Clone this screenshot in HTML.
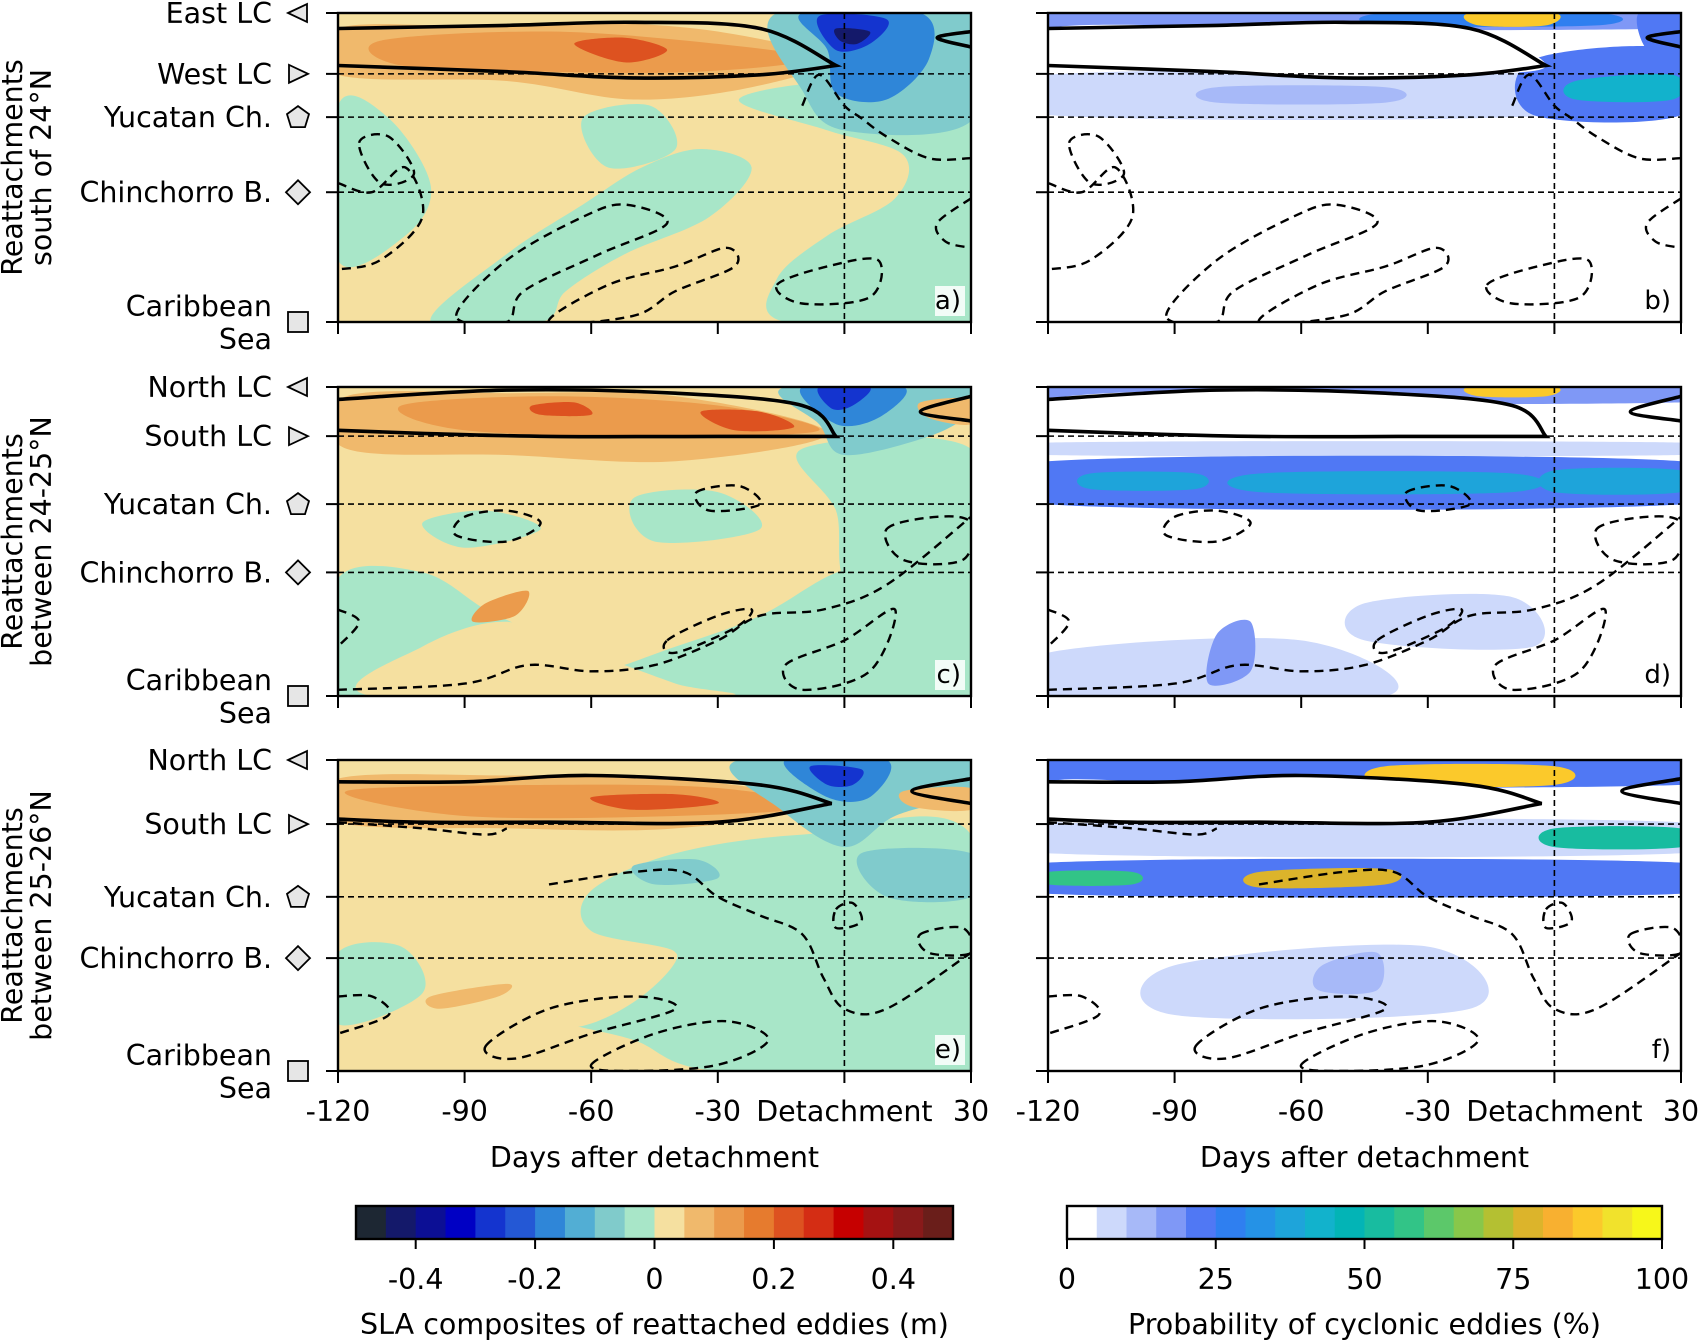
<!DOCTYPE html>
<html><head><meta charset="utf-8">
<style>
html,body{margin:0;padding:0;background:#fff;}
svg{display:block;font-family:"DejaVu Sans","Liberation Sans",sans-serif;}
</style></head>
<body>
<svg id="fig" width="1698" height="1341" viewBox="0 0 1698 1341"></svg>
<script>
// ---- data arrays ----
const xTickDays = [-120, -90, -60, -30, 0, 30];
const xTickLabels = ["-120", "-90", "-60", "-30", "Detachment", "30"];
const slaLevels = [-0.5,-0.45,-0.4,-0.35,-0.3,-0.25,-0.2,-0.15,-0.1,-0.05,0,0.05,0.1,0.15,0.2,0.25,0.3,0.35,0.4,0.45,0.5];
const slaColors = ["#1d2733","#14196a","#0c0f95","#0000c4","#1434cf","#2458d5","#2f86d8","#52aed4","#80cbcb","#a8e6c8","#f5e0a0","#f0b96c","#eb9b4c","#e67b2e","#dd5220","#d42d14","#c60000","#a51212","#881a1a","#6a1e1a"];
const slaTicks = [-0.4,-0.2,0,0.2,0.4];
const slaTickLabels = ["-0.4","-0.2","0","0.2","0.4"];
const probLevels = [0,5,10,15,20,25,30,35,40,45,50,55,60,65,70,75,80,85,90,95,100];
const probColors = ["#ffffff","#cdd9fb","#a7b9f8","#7f98f6","#5078f4","#2f7ff0","#2592e6","#1ea4da","#12b2cc","#03b4b6","#18bca0","#32c487","#5cc86a","#88c74a","#b4c032","#dcb42b","#f8b030","#fbc92b","#f1e22c","#f7f71a"];
const probTicks = [0,25,50,75,100];
const rowTitles = [["Reattachments","south of 24°N"],["Reattachments","between 24-25°N"],["Reattachments","between 25-26°N"]];
const rowCats = [
 [["East LC",0,"ltri"],["West LC",0.197,"rtri"],["Yucatan Ch.",0.337,"pent"],["Chinchorro B.",0.58,"diam"],["Caribbean\nSea",1,"sq"]],
 [["North LC",0,"ltri"],["South LC",0.159,"rtri"],["Yucatan Ch.",0.379,"pent"],["Chinchorro B.",0.6,"diam"],["Caribbean\nSea",1,"sq"]],
 [["North LC",0,"ltri"],["South LC",0.206,"rtri"],["Yucatan Ch.",0.44,"pent"],["Chinchorro B.",0.637,"diam"],["Caribbean\nSea",1,"sq"]]
];
const leftFills = [
 [ // a
  ["#a8e6c8",[[-120,0.3],[-108,0.34],[-98,0.56],[-104,0.72],[-120,0.8]]],
  ["#a8e6c8",[[-98,1],[-80,0.78],[-62,0.62],[-48,0.5],[-34,0.44],[-22,0.5],[-32,0.66],[-52,0.78],[-66,0.9],[-72,1]]],
  ["#a8e6c8",[[-25,0.28],[0,0.22],[30,0.26],[30,1],[-14,1],[-16,0.86],[-4,0.72],[12,0.6],[14,0.46],[-4,0.38]]],
  ["#a8e6c8",[[-62,0.34],[-46,0.3],[-40,0.44],[-56,0.5]]],
  ["#f0b96c",[[-120,0.05],[-90,0.04],[-60,0.03],[-30,0.06],[-4,0.15],[-22,0.24],[-50,0.28],[-80,0.22],[-120,0.2]]],
  ["#eb9b4c",[[-110,0.09],[-70,0.06],[-30,0.1],[-8,0.15],[-35,0.19],[-70,0.19],[-105,0.17]]],
  ["#dd5220",[[-64,0.1],[-52,0.08],[-42,0.12],[-52,0.16]]],
  ["#80cbcc",[[-16,0],[30,0],[30,0.35],[0,0.38],[-10,0.25]]],
  ["#2f86d8",[[-10,0],[18,0],[20,0.15],[10,0.28],[-2,0.26],[-4,0.12]]],
  ["#1434cf",[[-6,0.01],[10,0.02],[6,0.1],[-2,0.12]]],
  ["#14196a",[[-2,0.05],[6,0.06],[3,0.1],[-1,0.09]]]
 ],
 [ // c
  ["#a8e6c8",[[-120,0.62],[-100,0.6],[-85,0.72],[-70,0.82],[-60,0.92],[-40,0.84],[-20,0.74],[-5,0.62],[10,0.52],[20,0.3],[30,0.3],[30,1],[-120,1]]],
  ["#f5e0a0",[[-112,1],[-100,0.84],[-80,0.76],[-60,0.86],[-40,0.96],[-30,1]]],
  ["#a8e6c8",[[-50,0.36],[-30,0.34],[-20,0.46],[-45,0.5]]],
  ["#a8e6c8",[[-100,0.44],[-85,0.4],[-72,0.46],[-90,0.52]]],
  ["#a8e6c8",[[-10,0.2],[30,0.2],[30,0.6],[2,0.65],[-2,0.4]]],
  ["#f0b96c",[[-118,0.03],[-80,0.02],[-40,0.03],[-4,0.15],[-40,0.24],[-80,0.22],[-118,0.2]]],
  ["#eb9b4c",[[-105,0.06],[-70,0.03],[-30,0.06],[-6,0.14],[-40,0.16],[-90,0.14]]],
  ["#dd5220",[[-74,0.06],[-64,0.05],[-60,0.09],[-72,0.09]]],
  ["#dd5220",[[-34,0.08],[-20,0.08],[-12,0.13],[-26,0.14]]],
  ["#eb9b4c",[[-85,0.7],[-75,0.66],[-78,0.74],[-88,0.76]]],
  ["#80cbcc",[[-14,0],[30,0],[30,0.08],[20,0.16],[0,0.22],[-6,0.12]]],
  ["#2f86d8",[[-10,0],[14,0],[8,0.1],[-2,0.12]]],
  ["#1434cf",[[-6,0],[6,0],[2,0.06],[-3,0.07]]],
  ["#f0b96c",[[18,0.05],[30,0.04],[30,0.12],[20,0.1]]]
 ],
 [ // e
  ["#a8e6c8",[[-120,0.62],[-105,0.6],[-100,0.75],[-120,0.85]]],
  ["#a8e6c8",[[-60,0.42],[-40,0.3],[-10,0.24],[30,0.24],[30,1],[-30,1],[-50,0.9],[-70,0.82],[-55,0.72],[-40,0.62],[-60,0.55]]],
  ["#f5e0a0",[[-82,0.82],[-60,0.66],[-40,0.62],[-48,0.76],[-64,0.86]]],
  ["#80cbcc",[[-50,0.34],[-35,0.32],[-30,0.38],[-45,0.4]]],
  ["#80cbcc",[[4,0.3],[30,0.3],[30,0.44],[10,0.44]]],
  ["#f0b96c",[[-120,0.06],[-80,0.05],[-40,0.06],[-5,0.14],[-40,0.22],[-80,0.22],[-120,0.2]]],
  ["#eb9b4c",[[-118,0.1],[-70,0.08],[-30,0.09],[-8,0.15],[-40,0.18],[-90,0.18]]],
  ["#dd5220",[[-60,0.12],[-40,0.11],[-30,0.14],[-50,0.16]]],
  ["#f0b96c",[[-98,0.76],[-80,0.72],[-82,0.76],[-96,0.8]]],
  ["#80cbcc",[[-25,0],[30,0],[30,0.1],[12,0.18],[0,0.28],[-15,0.16]]],
  ["#2f86d8",[[-14,0],[10,0],[6,0.12],[-4,0.12]]],
  ["#1434cf",[[-8,0.02],[4,0.03],[2,0.08],[-4,0.08]]],
  ["#f0b96c",[[14,0.1],[30,0.09],[30,0.16],[16,0.15]]]
 ]
];
const rightFills = [
 [
  ["#7f98f6",[[-120,0],[30,0],[30,0.05],[-120,0.05]]],
  ["#2f7ff0",[[-40,0],[10,0],[10,0.04],[-40,0.04]]],
  ["#fbc92b",[[-20,0],[0,0],[-2,0.04],[-18,0.04]]],
  ["#cdd9fb",[[-120,0.2],[0,0.2],[0,0.33],[-120,0.33]]],
  ["#a7b9f8",[[-80,0.24],[-40,0.24],[-40,0.29],[-80,0.29]]],
  ["#5078f4",[[-5,0.15],[30,0.12],[30,0.33],[-5,0.33]]],
  ["#12b2cc",[[5,0.22],[28,0.2],[28,0.28],[5,0.28]]],
  ["#5078f4",[[20,0],[30,0],[30,0.15],[22,0.12]]]
 ],
 [
  ["#7f98f6",[[-120,0],[30,0],[30,0.05],[-120,0.05]]],
  ["#fbc92b",[[-20,0],[0,0],[-2,0.03],[-18,0.03]]],
  ["#cdd9fb",[[-120,0.18],[30,0.18],[30,0.22],[-120,0.22]]],
  ["#5078f4",[[-120,0.24],[30,0.24],[30,0.38],[-120,0.38]]],
  ["#1ea4da",[[-110,0.28],[-85,0.28],[-85,0.33],[-110,0.33]]],
  ["#1ea4da",[[-70,0.28],[-10,0.28],[-10,0.34],[-70,0.34]]],
  ["#1ea4da",[[0,0.27],[30,0.27],[30,0.34],[0,0.34]]],
  ["#cdd9fb",[[-45,0.7],[-10,0.68],[-5,0.84],[-45,0.82]]],
  ["#cdd9fb",[[-120,0.86],[-60,0.82],[-40,1],[-120,1]]],
  ["#7f98f6",[[-80,0.8],[-72,0.76],[-72,0.92],[-82,0.96]]]
 ],
 [
  ["#5078f4",[[-120,0],[30,0],[30,0.08],[-120,0.08]]],
  ["#fbc92b",[[-40,0.02],[0,0.02],[0,0.08],[-40,0.08]]],
  ["#cdd9fb",[[-120,0.2],[30,0.2],[30,0.3],[-120,0.3]]],
  ["#5078f4",[[-120,0.33],[30,0.33],[30,0.43],[-120,0.43]]],
  ["#32c487",[[-120,0.36],[-100,0.36],[-100,0.4],[-120,0.4]]],
  ["#dcb42b",[[-70,0.36],[-40,0.35],[-40,0.4],[-70,0.41]]],
  ["#18bca0",[[0,0.22],[30,0.22],[30,0.28],[0,0.28]]],
  ["#cdd9fb",[[-90,0.66],[-30,0.6],[-20,0.8],[-90,0.82]]],
  ["#a7b9f8",[[-55,0.66],[-42,0.62],[-42,0.74],[-56,0.74]]]
 ]
];
const lcTop = [[[-120,0.05],[-80,0.04],[-50,0.03],[-20,0.05],[-2,0.17]],[[-120,0.04],[-80,0.01],[-40,0.02],[-10,0.06],[-2,0.16]],[[-120,0.07],[-90,0.07],[-60,0.05],[-20,0.08],[-3,0.14]]];
const lcBot = [[[-2,0.17],[-20,0.2],[-50,0.21],[-80,0.19],[-120,0.17]],[[-2,0.16],[-30,0.16],[-70,0.16],[-100,0.15],[-120,0.14]],[[-3,0.14],[-30,0.2],[-70,0.2],[-100,0.2],[-120,0.19]]];
const lcRight = [[[30,0.06],[22,0.08],[30,0.11]],[[30,0.03],[18,0.08],[30,0.11]],[[30,0.06],[16,0.1],[30,0.14]]];
const dashed = [
 [
  [[-120,0.55],[-112,0.58],[-104,0.5],[-100,0.66],[-110,0.8],[-120,0.83]],
  [[-115,0.42],[-108,0.4],[-102,0.52],[-110,0.55]],
  [[-92,0.98],[-80,0.8],[-62,0.66],[-52,0.62],[-42,0.68],[-58,0.78],[-76,0.9],[-80,1]],
  [[-70,1],[-56,0.88],[-40,0.82],[-28,0.76],[-26,0.82],[-40,0.9],[-50,0.98]],
  [[-16,0.88],[-4,0.82],[8,0.8],[6,0.92],[-10,0.94]],
  [[-10,0.3],[-6,0.2],[0,0.3],[4,0.34],[10,0.4],[20,0.47],[30,0.47]],
  [[30,0.6],[22,0.68],[24,0.74],[30,0.76]]
 ],
 [
  [[-120,0.98],[-90,0.96],[-75,0.9],[-60,0.92],[-45,0.9],[-30,0.82],[-20,0.74],[-5,0.72],[10,0.64],[30,0.42]],
  [[-90,0.42],[-80,0.4],[-72,0.44],[-80,0.5],[-92,0.48]],
  [[-35,0.34],[-25,0.32],[-20,0.38],[-32,0.4]],
  [[-14,0.9],[0,0.82],[12,0.72],[6,0.92],[-10,0.98]],
  [[-42,0.82],[-30,0.74],[-22,0.72],[-26,0.78],[-40,0.86]],
  [[10,0.46],[22,0.42],[30,0.44],[28,0.56],[14,0.56]],
  [[-120,0.72],[-115,0.76],[-120,0.84]]
 ],
 [
  [[-120,0.76],[-112,0.76],[-108,0.82],[-120,0.88]],
  [[-85,0.92],[-70,0.8],[-50,0.76],[-40,0.8],[-60,0.88],[-78,0.96]],
  [[-60,0.98],[-45,0.88],[-28,0.84],[-18,0.9],[-30,0.98],[-50,1]],
  [[-70,0.4],[-50,0.36],[-38,0.36],[-30,0.44],[-20,0.5],[-10,0.56],[-5,0.7],[0,0.8],[10,0.8],[30,0.62]],
  [[-2,0.48],[2,0.46],[4,0.52],[-2,0.54]],
  [[18,0.56],[28,0.54],[30,0.62],[20,0.62]],
  [[-120,0.2],[-100,0.22],[-85,0.24],[-80,0.22]]
 ]
];
// ---- layout ----
const FS = 28.5;
const rowsY = [[13,322],[387,696],[760,1071]];
const colsX = [[338,971],[1048,1681]];
const NS = "http://www.w3.org/2000/svg";
const svg = document.getElementById("fig");
function el(tag, attrs, parent){const e=document.createElementNS(NS,tag);for(const k in attrs)e.setAttribute(k,attrs[k]);(parent||svg).appendChild(e);return e;}
function xScale(c,d){const [a,b]=colsX[c];return a+(d+120)/150*(b-a);}
function yScale(r,f){const [a,b]=rowsY[r];return a+f*(b-a);}
function smooth(pts,closed){
 const n=pts.length;let d="M"+pts[0][0].toFixed(1)+","+pts[0][1].toFixed(1);
 const get=i=>closed?pts[(i+n)%n]:pts[Math.max(0,Math.min(n-1,i))];
 const segs=closed?n:n-1;
 for(let i=0;i<segs;i++){const p0=get(i-1),p1=get(i),p2=get(i+1),p3=get(i+2);
  const c1=[p1[0]+(p2[0]-p0[0])/6,p1[1]+(p2[1]-p0[1])/6],c2=[p2[0]-(p3[0]-p1[0])/6,p2[1]-(p3[1]-p1[1])/6];
  d+=" C"+c1.map(v=>v.toFixed(1)).join(",")+" "+c2.map(v=>v.toFixed(1)).join(",")+" "+p2[0].toFixed(1)+","+p2[1].toFixed(1);}
 return d+(closed?"Z":"");
}
const defs=el("defs",{});
for(let r=0;r<3;r++)for(let c=0;c<2;c++){const cp=el("clipPath",{id:"clip"+r+c},defs);el("rect",{x:colsX[c][0],y:rowsY[r][0],width:colsX[c][1]-colsX[c][0],height:rowsY[r][1]-rowsY[r][0]},cp);}
const letters=[["a)","b)"],["c)","d)"],["e)","f)"]];
for(let r=0;r<3;r++){
 for(let c=0;c<2;c++){
  const g=el("g",{"clip-path":"url(#clip"+r+c+")"});
  
  
  const x0=colsX[c][0],x1=colsX[c][1],y0=rowsY[r][0],y1=rowsY[r][1];
  el("rect",{x:x0,y:y0,width:x1-x0,height:y1-y0,fill:c===0?"#f5e0a0":"#ffffff"},g);
  const fills=c===0?leftFills[r]:rightFills[r];
  fills.forEach(([col,pts])=>{const p=el("path",{d:smooth(pts.map(q=>[xScale(c,q[0]),yScale(r,q[1])]),true),fill:col},g);
   
   });
  if(c===1){
   const pts=lcTop[r].concat(lcBot[r].slice(1)).map(q=>[xScale(c,q[0]),yScale(r,q[1])]);
   el("path",{d:smooth(pts,true),fill:"#fff"},g);}
  rowCats[r].forEach(([n,f])=>{ if(f>0&&f<1) el("line",{x1:x0,x2:x1,y1:yScale(r,f),y2:yScale(r,f),stroke:"#000","stroke-width":1.6,"stroke-dasharray":"6,4"},g);});
  el("line",{x1:xScale(c,0),x2:xScale(c,0),y1:y0,y2:y1,stroke:"#000","stroke-width":1.6,"stroke-dasharray":"6,4"},g);
  dashed[r].forEach(pts=>{const closed=pts.length>=4&&pts[0][0]!==-120&&pts[pts.length-1][0]!==30;
   const p=el("path",{d:smooth(pts.map(q=>[xScale(c,q[0]),yScale(r,q[1])]),closed),fill:"none",stroke:"#000","stroke-width":2.4,"stroke-dasharray":"9,6"},g);
   
   });
  const lc=el("path",{d:smooth(lcTop[r].map(q=>[xScale(c,q[0]),yScale(r,q[1])]),false)+" "+smooth(lcBot[r].map(q=>[xScale(c,q[0]),yScale(r,q[1])]),false).replace("M","L"),fill:"none",stroke:"#000","stroke-width":3.6},g);
  
  
  el("path",{d:smooth(lcRight[r].map(q=>[xScale(c,q[0]),yScale(r,q[1])]),false),fill:"none",stroke:"#000","stroke-width":3.6},g);
  el("rect",{x:x0,y:y0,width:x1-x0,height:y1-y0,fill:"none",stroke:"#000","stroke-width":2.4});
  el("rect",{x:x1-36,y:y1-36,width:30,height:30,fill:"#fff",opacity:0.85});
  const lt=el("text",{x:x1-10,y:y1-13,"font-size":26,"text-anchor":"end"});lt.textContent=letters[r][c];
  
  
  xTickDays.forEach((d,i)=>{el("line",{x1:xScale(c,d),x2:xScale(c,d),y1:y1,y2:y1+12,stroke:"#000","stroke-width":2});
   if(r===2){const t=el("text",{x:xScale(c,d),y:y1+50,"font-size":FS,"text-anchor":"middle"});t.textContent=xTickLabels[i];
    
    }});
  rowCats[r].forEach(([n,f])=>el("line",{x1:x0-12,x2:x0,y1:yScale(r,f),y2:yScale(r,f),stroke:"#000","stroke-width":2}));
 }
 rowCats[r].forEach(([n,f,m])=>{const y=yScale(r,f);const lines=n.split("\n");
  const off=lines.length>1?-16:0;
  lines.forEach((s,k)=>{const t=el("text",{x:272,y:y+10+off+k*33,"font-size":FS,"text-anchor":"end"});t.textContent=s;
   
   });
  const mx=298,st={fill:"#e6e6e6",stroke:"#000","stroke-width":1.8};let sh;
  if(m==="ltri")sh=el("polygon",Object.assign({points:`${mx-10},${y} ${mx+9},${y-9} ${mx+9},${y+9}`},st));
  if(m==="rtri")sh=el("polygon",Object.assign({points:`${mx+10},${y} ${mx-9},${y-9} ${mx-9},${y+9}`},st));
  if(m==="pent")sh=el("polygon",Object.assign({points:`${mx},${y-11} ${mx+11},${y-3} ${mx+7},${y+10} ${mx-7},${y+10} ${mx-11},${y-3}`},st));
  if(m==="diam")sh=el("polygon",Object.assign({points:`${mx},${y-12} ${mx+12},${y} ${mx},${y+12} ${mx-12},${y}`},st));
  if(m==="sq")sh=el("rect",Object.assign({x:mx-10,y:y-10,width:20,height:20},st));
  
  
 });
 const cy=(rowsY[r][0]+rowsY[r][1])/2;
 rowTitles[r].forEach((s,k)=>{const t=el("text",{x:0,y:0,"font-size":FS,"text-anchor":"middle",transform:`translate(${22+k*29},${cy}) rotate(-90)`});t.textContent=s;
  
  });
}
[0,1].forEach(c=>{const t=el("text",{x:(colsX[c][0]+colsX[c][1])/2,y:1167,"font-size":FS,"text-anchor":"middle"});t.textContent="Days after detachment";
 
 });
function colorbar(x0,x1,levels,colors,ticks,labels,title,name){
 const y0=1206,y1=1239,lo=levels[0],hi=levels[levels.length-1];const sx=v=>x0+(v-lo)/(hi-lo)*(x1-x0);
 const g=el("g",{});
 colors.forEach((col,i)=>el("rect",{x:sx(levels[i]),y:y0,width:sx(levels[i+1])-sx(levels[i])+0.5,height:y1-y0,fill:col},g));
 el("rect",{x:x0,y:y0,width:x1-x0,height:y1-y0,fill:"none",stroke:"#000","stroke-width":2.4},g);
 ticks.forEach((v,i)=>{el("line",{x1:sx(v),x2:sx(v),y1:y1,y2:y1+10,stroke:"#000","stroke-width":2},g);
  const t=el("text",{x:sx(v),y:y1+50,"font-size":FS,"text-anchor":"middle"},g);t.textContent=labels[i];
  
  });
 const t=el("text",{x:(x0+x1)/2,y:1334,"font-size":FS,"text-anchor":"middle"},g);t.textContent=title;
 
 
}
colorbar(356,953,slaLevels,slaColors,slaTicks,slaTickLabels,"SLA composites of reattached eddies (m)","sla-colorbar");
colorbar(1067,1662,probLevels,probColors,probTicks,probTicks.map(String),"Probability of cyclonic eddies (%)","probability-colorbar");
</script>
</body></html>
